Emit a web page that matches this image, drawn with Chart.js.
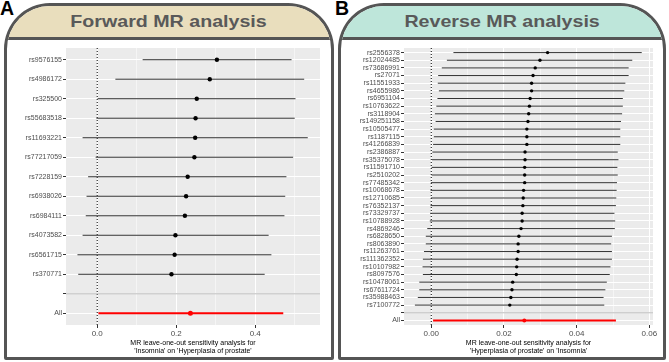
<!DOCTYPE html>
<html>
<head>
<meta charset="utf-8">
<script src="https://cdn.jsdelivr.net/npm/chart.js@4"></script>
<style>
body { margin: 0; background: #fff; font-family: "Liberation Sans", Arial, sans-serif; }
#page { position: relative; width: 669px; height: 362px; overflow: hidden; }
.frame { position: absolute; top: 3px; height: 351px; border: 3px solid #555; border-radius: 46px 46px 2px 2px / 46px 46px 2px 2px; overflow: hidden; background: #fff; }
.head { height: 31px; border-bottom: 3px solid #555; text-align: center; line-height: 31px; }
.head span { display: inline-block; font-weight: bold; font-size: 16.5px; color: #595959; transform: scaleX(1.19); }
.tag { position: absolute; top: -1.5px; font-weight: bold; font-size: 19.5px; line-height: 1; color: #000; }
.wrap { position: absolute; top: 40px; height: 317px; }
</style>
</head>
<body>
<div id="page">
  <div class="tag" style="left:0">A</div>
  <div class="tag" style="left:335px">B</div>
  <div class="frame" style="left:4px;width:324px"><div class="head" style="background:#E9DEBD"><span>Forward MR analysis</span></div></div>
  <div class="frame" style="left:338px;width:322px"><div class="head" style="background:#BEE6DA"><span>Reverse MR analysis</span></div></div>
  <div class="wrap" style="left:7px;width:324px"><canvas id="chartA"></canvas></div>
  <div class="wrap" style="left:341px;width:322px"><canvas id="chartB"></canvas></div>
</div>
<script>
// Forward: Insomnia -> Hyperplasia of prostate
const snpsA = ["rs9576155", "rs4986172", "rs325500", "rs55683518", "rs11693221", "rs77217059",
  "rs7228159", "rs6938026", "rs6984111", "rs4073582", "rs6561715", "rs370771"];
const bA  = [0.303, 0.285, 0.252, 0.249, 0.248, 0.246, 0.229, 0.225, 0.222, 0.198, 0.196, 0.188];
const loA = [0.115, 0.046, 0.001, -0.002, -0.037, -0.004, -0.023, -0.027, -0.029, -0.037, -0.050, -0.048];
const hiA = [0.492, 0.524, 0.502, 0.500, 0.533, 0.496, 0.479, 0.476, 0.474, 0.434, 0.441, 0.424];
const allA = [0.236, 0.003, 0.471]; // b, lo, hi
const xMajorA = [0, 0.2, 0.4];
const xLabelsA = ["0.0", "0.2", "0.4"];
const xMinorA = [0.1, 0.3, 0.5];

// Reverse: Hyperplasia of prostate -> Insomnia
const snpsB = ["rs2556378", "rs12024485", "rs73686991", "rs27071", "rs11551933", "rs4655986",
  "rs6951104", "rs10763622", "rs3118904", "rs149251158", "rs10505477", "rs1187115", "rs41266839",
  "rs2386887", "rs35375078", "rs11591710", "rs2510202", "rs77485342", "rs10068678", "rs12710685",
  "rs76352137", "rs73329737", "rs10788928", "rs4869246", "rs6828650", "rs8063890", "rs11263761",
  "rs111362352", "rs10107982", "rs8097576", "rs10478061", "rs67611724", "rs35988463", "rs7100772"];
const bB = [0.0320, 0.0299, 0.0286, 0.0280, 0.0276, 0.0276, 0.0272, 0.0270, 0.0268, 0.0266,
  0.0263, 0.0263, 0.0263, 0.0258, 0.0258, 0.0257, 0.0257, 0.0257, 0.0254, 0.0253,
  0.0252, 0.0250, 0.0250, 0.0247, 0.0241, 0.0239, 0.0239, 0.0236, 0.0235, 0.0234,
  0.0224, 0.0222, 0.0219, 0.0216];
const loB = [0.0061, 0.0043, 0.0029, 0.0019, 0.0018, 0.0021, 0.0017, 0.0014, 0.0010, 0.0012,
  0.0007, 0.0007, 0.0005, 0.0003, 0.0002, 0.0001, 0.0001, -0.0001, -0.0002, -0.0001,
  -0.0002, -0.0003, -0.0004, -0.0011, -0.0015, -0.0015, -0.0020, -0.0023, -0.0024, -0.0023,
  -0.0033, -0.0033, -0.0037, -0.0045];
const hiB = [0.0579, 0.0553, 0.0543, 0.0543, 0.0534, 0.0531, 0.0527, 0.0527, 0.0525, 0.0522,
  0.0520, 0.0520, 0.0520, 0.0513, 0.0515, 0.0512, 0.0513, 0.0511, 0.0510, 0.0509,
  0.0508, 0.0504, 0.0506, 0.0505, 0.0497, 0.0495, 0.0497, 0.0497, 0.0493, 0.0491,
  0.0483, 0.0479, 0.0474, 0.0476];
const allB = [0.0256, 0.0005, 0.0508];
const xMajorB = [0, 0.02, 0.04, 0.06];
const xLabelsB = ["0.00", "0.02", "0.04", "0.06"];
const xMinorB = [0.01, 0.03, 0.05];

Chart.defaults.font.family = "'Liberation Sans', Arial, sans-serif";

const panelBg = {
  id: "panelBg",
  beforeDraw(chart) {
    const a = chart.chartArea, ctx = chart.ctx;
    ctx.save();
    ctx.fillStyle = "#EBEBEB";
    ctx.fillRect(a.left, a.top, a.right - a.left, a.bottom - a.top);
    ctx.restore();
  }
};

function looPlot(id, snps, b, lo, hi, all, xMin, xMax, xMajor, xLabels, xMinor, yWidth, padRight, dotR, title) {
  const n = snps.length;
  const rowLabels = snps.concat(["", "All"]);
  const yMin = -0.6, yMax = n + 1 + 0.6;
  const seg = (x0, x1, y, color, w, dash) => ({
    data: [{x: x0, y: y}, {x: x1, y: y}], showLine: true, borderColor: color,
    borderWidth: w, borderDash: dash || [], pointRadius: 0
  });
  const datasets = [];
  datasets.push({data: [{x: all[0], y: n + 1}], pointRadius: dotR + 0.3, backgroundColor: "#FF0000", borderWidth: 0});
  datasets.push({data: b.map((v, i) => ({x: v, y: i})), pointRadius: dotR, backgroundColor: "#000", borderWidth: 0});
  datasets.push(seg(all[1], all[2], n + 1, "#FF0000", 2));
  snps.forEach((s, i) => datasets.push(seg(lo[i], hi[i], i, "#333333", 1)));
  datasets.push(seg(xMin, xMax, n, "#BEBEBE", 1));
  datasets.push(seg(0, 0, yMin, "#000", 1, [1, 2]));
  datasets[datasets.length - 1].data[1].y = yMax;

  const xTicks = xMajor.concat(xMinor).sort((p, q) => p - q);
  const isMajor = v => xMajor.some(m => Math.abs(m - v) < 1e-9);

  new Chart(document.getElementById(id), {
    type: "scatter",
    data: {datasets: datasets},
    plugins: [panelBg],
    options: {
      responsive: true,
      maintainAspectRatio: false,
      animation: false,
      layout: {padding: {top: 8, right: padRight, left: 0, bottom: 0}},
      plugins: {legend: {display: false}, tooltip: {enabled: false}},
      scales: {
        x: {
          type: "linear", min: xMin, max: xMax,
          afterBuildTicks: s => { s.ticks = xTicks.map(v => ({value: v})); },
          afterFit: s => { s.height = 32; },
          border: {display: false},
          grid: {
            color: "#FFFFFF",
            lineWidth: c => (c.tick && isMajor(c.tick.value)) ? 1 : 0.5,
            tickColor: c => (c.tick && isMajor(c.tick.value)) ? "#333333" : "rgba(0,0,0,0)",
            tickLength: 3
          },
          ticks: {
            autoSkip: false, maxRotation: 0, padding: 1, color: "#4D4D4D", font: {size: 8},
            callback: v => { const k = xMajor.findIndex(m => Math.abs(m - v) < 1e-9); return k >= 0 ? xLabels[k] : ""; }
          },
          title: {display: true, text: title, color: "#000", font: {size: 7, lineHeight: "8px"}, padding: {top: 0, bottom: 2}}
        },
        y: {
          type: "linear", min: yMin, max: yMax, reverse: true,
          afterBuildTicks: s => { s.ticks = rowLabels.map((l, i) => ({value: i})); },
          afterFit: s => { s.width = yWidth; },
          border: {display: false},
          grid: {color: "#FFFFFF", lineWidth: 1, tickColor: "#333333", tickLength: 3},
          ticks: {autoSkip: false, padding: 1, color: "#4D4D4D", font: {size: 7}, callback: v => rowLabels[v]}
        }
      }
    }
  });
}

looPlot("chartA", snpsA, bA, loA, hiA, allA, -0.079, 0.564, xMajorA, xLabelsA, xMinorA, 59, 11, 2.2,
  ["MR leave-one-out sensitivity analysis for", "'Insomnia' on 'Hyperplasia of prostate'"]);
looPlot("chartB", snpsB, bB, loB, hiB, allB, -0.0075, 0.061, xMajorB, xLabelsB, xMinorB, 63, 10, 1.7,
  ["MR leave-one-out sensitivity analysis for", "'Hyperplasia of prostate' on 'Insomnia'"]);
</script>
</body>
</html>
